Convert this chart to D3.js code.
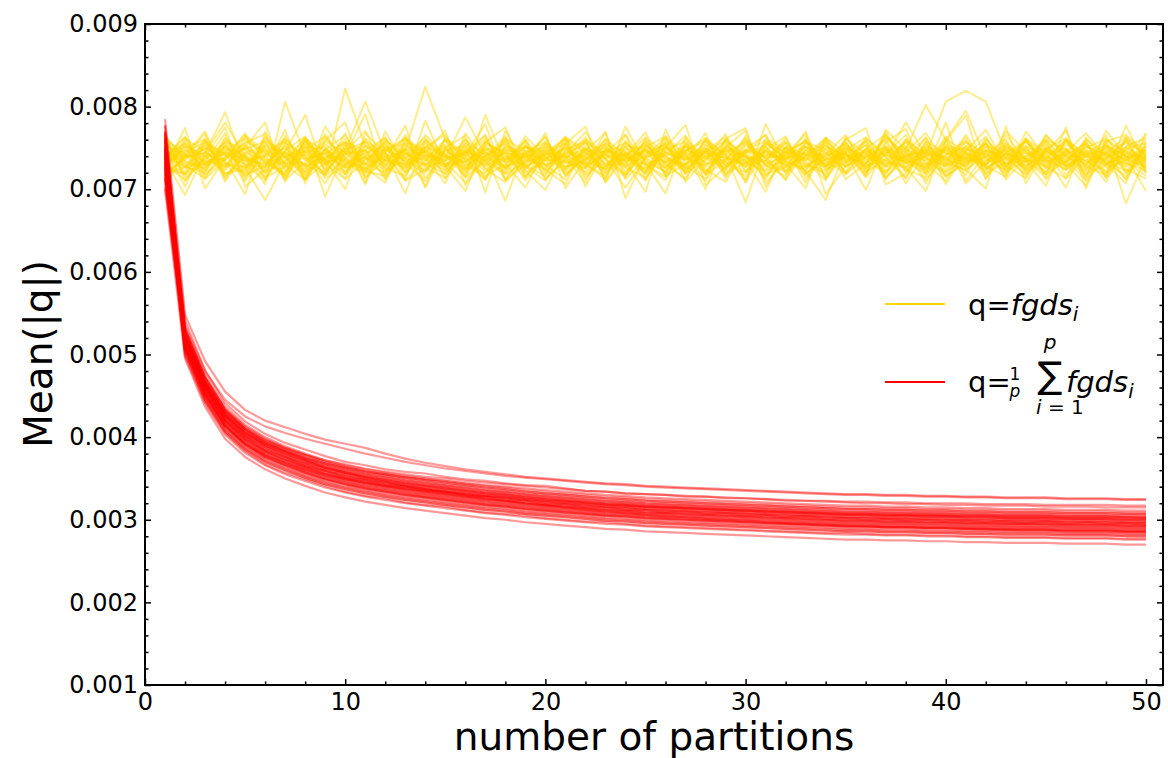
<!DOCTYPE html>
<html>
<head>
<meta charset="utf-8">
<script src="https://cdn.jsdelivr.net/npm/d3@7/dist/d3.min.js"></script>
<style>
  html, body { margin: 0; padding: 0; background: #fff; }
  svg { display: block; font-family: "DejaVu Sans", sans-serif; }
</style>
</head>
<body>
<svg id="chart" width="1168" height="758"></svg>
<script>
// Number of partitions on the x axis
const partitions = d3.range(1, 51);

// Axis ticks
const xTickValues = [0, 10, 20, 30, 40, 50];
const xTickLabels = ["0", "10", "20", "30", "40", "50"];
const yTickValues = [0.001, 0.002, 0.003, 0.004, 0.005, 0.006, 0.007, 0.008, 0.009];
const yTickLabels = ["0.001", "0.002", "0.003", "0.004", "0.005", "0.006", "0.007", "0.008", "0.009"];

// Mean(|q|) x 1e5 for q = fgds_i, one run per row
const singleRuns = [
  [731,748,722,756,739,727,761,735,744,719,752,738,729,766,741,725,749,733,758,721,744,737,752,728,740,763,731,746,724,755,738,742,717,749,733,760,727,741,751,736,722,747,739,758,730,745,726,753,740,734],
  [745,726,751,733,718,757,740,729,762,737,724,748,755,731,719,746,738,760,727,743,735,721,749,741,756,729,744,734,759,722,747,736,751,728,742,731,764,739,725,748,737,756,723,741,750,733,757,729,744,738],
  [718,739,744,727,752,735,720,758,731,746,738,723,749,741,728,755,732,719,747,736,761,733,725,743,718,750,739,727,744,757,730,721,748,739,755,726,742,733,719,754,745,731,748,724,737,760,742,735,722,749],
  [756,733,729,749,741,722,745,730,717,755,742,735,726,752,738,744,721,746,733,758,725,748,737,714,753,740,727,759,735,741,723,750,736,744,728,739,751,722,746,735,758,724,743,732,755,727,741,749,736,728],
  [737,752,741,719,728,748,733,754,742,726,731,760,737,722,749,730,758,741,720,735,751,727,743,756,734,721,748,739,730,746,759,734,724,751,741,729,736,757,733,720,749,742,727,760,736,724,745,738,758,742],
  [725,718,755,743,735,731,752,721,738,748,757,729,744,735,760,723,741,750,736,729,742,756,728,737,747,732,754,721,749,738,727,745,758,735,719,748,733,726,752,744,736,729,755,738,721,747,734,722,749,756],
  [762,741,735,728,759,744,726,747,733,739,721,745,762,728,734,750,724,737,744,751,728,733,761,740,725,744,736,748,718,733,751,726,741,762,735,744,720,748,739,727,753,735,746,723,758,739,731,744,727,747],
  [740,755,730,747,724,762,738,718,750,729,744,753,733,747,726,739,761,724,752,740,733,745,719,751,737,755,724,740,746,728,735,757,731,722,750,739,745,736,723,759,731,748,735,750,726,733,752,741,731,723],
  [705,742,770,712,751,781,709,762,735,700,768,744,712,783,728,698,757,775,715,741,764,703,749,733,697,772,720,753,744,708,779,731,701,763,744,717,770,726,698,758,789,712,766,735,704,760,742,718,777,729],
  [768,710,739,775,703,724,772,707,759,781,714,736,777,702,750,765,696,771,728,710,755,776,708,740,769,716,745,700,761,774,708,735,770,712,744,699,757,773,720,781,710,745,716,770,738,702,763,731,707,768],
  [726,774,701,738,768,712,745,790,718,752,706,770,728,745,771,705,739,764,722,699,748,758,712,776,731,695,760,718,751,771,703,742,767,694,728,754,712,745,768,731,724,701,776,707,749,762,715,771,740,698],
  [751,703,760,735,694,770,729,712,776,740,791,713,748,703,762,742,779,711,730,768,701,737,724,766,712,751,778,705,727,744,766,720,752,730,760,774,706,719,757,706,746,772,729,753,718,775,701,758,766,744],
  [728,719,745,781,739,706,806,740,718,822,752,733,747,824,760,715,790,731,702,749,738,725,770,689,741,756,718,747,763,735,697,752,741,736,744,716,772,748,802,760,795,737,724,758,733,744,768,739,712,752],
  [735,693,744,793,726,687,733,762,691,747,806,744,695,760,738,787,741,686,752,729,743,769,736,702,738,751,729,760,742,684,755,738,722,687,747,763,739,781,741,806,819,806,744,733,760,748,729,756,683,739],
  [733,747,739,725,744,751,728,742,736,757,730,739,746,722,741,733,751,739,727,744,738,749,731,743,723,745,737,729,752,740,734,723,746,738,727,749,741,735,730,742,751,726,738,744,733,741,723,747,735,752],
  [748,731,726,752,734,740,745,724,748,731,739,727,742,750,729,746,735,748,740,730,751,728,740,735,748,726,752,731,736,747,739,750,728,744,738,732,746,753,737,729,742,733,750,727,745,736,748,730,743,736],
  [722,736,749,741,730,726,739,751,729,743,747,735,731,738,754,728,745,727,739,748,731,742,745,726,752,737,730,744,738,731,746,729,738,753,734,741,728,740,746,737,728,752,731,740,747,728,740,736,751,728],
  [741,727,733,738,749,736,731,738,744,726,736,749,725,741,735,742,729,739,751,737,727,736,747,738,730,741,746,737,727,743,730,741,752,728,739,746,735,727,741,749,738,731,744,736,728,742,735,744,729,745],
  [753,739,744,731,727,743,749,727,740,735,725,741,738,730,745,737,744,733,740,726,746,739,728,748,741,733,740,750,730,736,744,733,727,741,746,738,731,744,735,740,732,746,737,729,742,750,733,738,747,733],
  [729,744,728,744,737,731,741,746,729,749,740,731,739,745,730,747,738,725,743,734,740,731,742,734,745,735,727,740,748,731,742,737,744,730,742,735,749,731,739,746,733,739,748,733,740,729,745,733,739,741],
  [716,758,731,744,709,753,738,721,767,729,748,712,755,736,722,761,727,745,714,752,739,708,758,733,747,719,763,730,741,711,756,744,726,760,718,739,752,707,745,731,763,718,751,736,714,748,729,765,721,742],
  [752,721,763,709,745,733,716,757,724,768,713,749,735,719,762,734,711,753,741,724,706,757,742,716,751,764,709,737,757,721,739,712,763,727,751,736,718,759,731,710,749,739,722,761,744,713,756,720,738,767],
  [739,764,715,753,729,711,756,740,707,744,771,722,737,758,713,744,766,718,733,755,721,747,768,712,738,726,752,717,735,762,729,756,713,742,766,721,735,748,707,752,726,760,738,718,745,771,710,738,757,724],
  [711,745,757,722,764,741,713,752,735,761,726,708,759,747,723,737,712,761,746,718,754,731,712,759,727,742,765,724,709,749,766,719,740,757,712,731,762,744,720,758,707,734,754,727,766,739,716,752,731,760],
  [761,715,734,768,717,729,758,713,749,722,740,763,711,734,752,719,749,735,759,712,738,763,729,745,710,757,736,748,722,765,717,746,734,711,757,728,743,766,717,748,735,756,712,738,761,727,747,714,760,721],
  [727,753,712,736,756,767,722,745,716,737,759,728,766,713,747,752,725,708,737,764,718,744,755,721,749,733,711,762,740,727,748,764,719,736,745,757,714,737,763,716,745,728,770,746,719,733,760,742,724,713],
  [744,737,768,716,740,715,747,764,731,712,735,757,720,748,733,708,741,756,725,744,761,716,737,752,719,764,742,710,754,733,722,738,760,714,749,724,766,731,748,739,717,762,730,747,725,757,738,709,751,736],
  [758,727,720,761,731,749,711,733,758,744,722,716,752,739,707,768,734,721,760,729,712,750,723,739,763,716,731,755,713,748,740,758,729,719,761,743,722,752,711,741,759,725,743,715,750,731,704,760,745,719],
  [720,761,746,728,753,719,765,726,743,757,708,751,728,760,741,722,755,744,711,737,749,727,761,718,744,753,719,736,767,709,747,730,751,745,721,762,739,714,756,728,739,764,721,735,758,717,753,732,716,755],
  [747,718,737,757,712,764,730,752,713,729,753,741,710,724,760,739,716,730,752,745,725,760,709,745,730,715,752,741,725,758,737,711,747,728,755,719,749,732,762,723,752,713,744,758,729,749,721,743,764,738],
  [733,750,760,714,742,727,753,711,748,765,731,720,757,744,718,752,729,762,715,741,756,712,747,730,759,740,721,746,733,716,761,749,708,758,736,745,727,761,739,715,734,751,727,762,712,742,755,726,735,748],
  [749,729,713,746,762,738,717,759,736,718,747,762,732,710,749,725,758,736,741,763,716,738,751,726,714,747,758,721,750,739,715,744,759,724,740,753,714,742,727,764,724,740,761,719,748,731,759,714,747,726],
  [714,740,753,731,721,759,744,729,755,733,717,745,761,738,727,748,713,753,729,716,761,744,725,757,736,721,746,762,719,744,752,727,741,716,763,731,757,721,749,733,766,728,715,752,740,723,744,758,719,739],
  [765,734,725,758,748,720,735,763,722,746,729,756,719,751,743,715,753,727,764,739,723,751,737,718,762,745,727,713,761,732,747,734,722,755,719,748,729,759,743,721,737,754,741,725,765,742,719,729,752,762],
  [730,711,741,735,766,745,758,717,738,713,762,735,749,726,714,757,733,744,738,723,758,718,744,766,731,711,755,743,733,720,758,745,737,727,752,714,744,750,729,761,745,719,733,749,727,713,741,754,733,716],
  [742,756,722,763,737,714,727,748,764,735,720,752,741,763,729,734,747,712,745,757,733,725,747,739,720,752,735,768,716,754,729,716,757,748,731,758,721,740,749,716,731,756,728,745,737,759,728,717,762,740],
  [755,738,749,719,724,754,742,712,732,757,746,726,716,751,766,727,719,749,723,755,741,730,716,753,748,738,724,745,759,741,712,751,734,762,727,742,760,724,714,752,740,729,758,721,747,735,712,752,740,731],
  [719,727,758,742,755,732,719,761,746,727,739,717,763,742,735,760,741,726,754,712,736,760,742,729,757,724,747,758,728,746,733,762,719,737,757,725,749,713,758,744,728,747,718,761,734,754,740,729,762,721],
  [736,763,730,752,715,741,761,737,720,753,724,759,743,729,751,714,735,757,730,747,717,740,754,745,722,760,741,719,748,727,756,738,743,724,732,749,766,737,726,751,743,722,752,736,718,761,725,746,712,757],
  [760,742,718,739,749,758,714,745,752,719,758,744,722,756,738,741,765,711,743,735,763,748,720,737,754,730,713,749,737,760,718,727,756,733,744,721,752,736,744,730,757,743,729,713,753,724,750,761,738,726]
];

// Mean(|q|) x 1e5 for q = (1/p) * sum of fgds_i over the p partitions, one run per row
const averagedRuns = [
  [778,541,481,441,419,404,393,385,377,370,366,361,358,356,352,349,347,344,342,341,338,335,334,332,331,330,328,328,326,326,325,323,323,322,321,320,320,319,319,318,318,317,317,317,316,316,316,315,315,315],
  [712,500,443,405,383,367,357,349,341,334,329,326,321,318,316,312,309,307,305,302,300,298,297,295,293,292,291,290,289,288,287,286,285,284,284,283,282,282,281,281,280,280,279,279,279,278,278,278,277,277],
  [752,522,466,427,405,391,380,371,363,357,352,348,344,341,338,335,332,330,327,325,323,321,319,318,316,315,314,313,312,311,310,309,308,307,306,306,305,305,304,304,303,303,302,302,302,301,301,301,300,300],
  [735,512,455,418,395,380,370,361,353,347,342,338,334,331,328,325,322,320,317,315,313,311,309,308,306,305,304,303,302,301,300,299,298,297,296,296,295,295,294,294,293,293,292,292,292,291,291,291,290,290],
  [760,530,472,434,412,397,386,378,370,364,359,355,351,348,345,342,339,337,334,332,330,328,326,325,323,322,321,320,319,318,317,316,315,314,313,313,312,312,311,311,310,310,309,309,309,308,308,308,307,307],
  [722,508,450,413,390,375,365,356,348,342,337,333,329,326,323,320,317,315,312,310,308,306,304,303,301,300,299,298,297,296,295,294,293,292,291,291,290,290,289,289,288,288,287,287,287,286,286,286,285,285],
  [748,518,461,421,401,384,376,365,359,351,348,342,340,335,334,329,328,324,323,319,319,315,315,312,312,309,310,307,308,305,306,303,304,301,302,300,301,299,300,298,299,297,298,296,298,295,297,295,296,294],
  [785,548,492,455,433,420,412,404,397,392,387,380,374,369,365,361,358,355,352,350,348,346,344,343,341,340,339,338,337,336,335,334,333,332,331,331,330,330,329,329,328,328,327,327,327,326,326,326,325,325],
  [700,495,437,398,376,361,350,341,333,327,322,318,314,311,308,305,302,300,297,295,293,291,289,288,286,285,284,283,282,281,280,279,278,277,276,276,275,275,274,274,273,273,272,272,272,271,271,271,270,270],
  [742,526,468,430,408,393,383,374,366,360,355,351,347,344,341,338,335,333,330,328,326,324,322,321,319,318,317,316,315,314,313,312,311,310,309,309,308,308,307,307,306,306,305,305,305,304,304,304,303,303],
  [766,517,458,420,398,383,373,364,356,350,345,341,337,334,331,328,325,323,320,318,316,314,312,311,309,308,307,306,305,304,303,302,301,300,299,299,298,298,297,297,296,296,295,295,295,294,294,294,293,293],
  [730,515,462,426,405,392,383,375,368,363,358,355,352,349,347,344,342,340,338,336,334,332,330,329,327,326,325,324,323,322,321,320,319,318,317,317,316,316,315,315,314,314,313,313,313,312,312,312,311,311],
  [740,505,447,409,387,372,362,353,345,339,334,330,326,323,320,317,314,312,309,307,305,303,301,300,298,297,296,295,294,293,292,291,290,289,288,288,287,287,286,286,285,285,284,284,284,283,283,283,282,282],
  [720,521,463,425,403,388,378,369,361,355,350,346,342,339,336,333,330,328,325,323,321,319,317,316,314,313,312,311,310,309,308,307,306,305,304,304,303,303,302,302,301,301,300,300,300,299,299,299,298,298],
  [756,511,453,415,393,378,368,359,351,345,340,336,332,329,326,323,320,318,315,313,311,309,307,306,304,303,302,301,300,299,298,297,296,295,294,294,293,293,292,292,291,291,290,290,290,289,289,289,288,288],
  [770,524,466,430,410,396,387,379,372,367,362,358,355,352,350,347,345,343,341,339,337,335,334,332,331,330,329,328,327,326,325,324,323,323,322,322,321,321,320,320,320,319,319,319,318,318,318,318,317,317],
  [728,498,441,403,381,366,355,347,339,333,328,324,320,317,314,311,308,306,303,301,299,297,295,294,292,291,290,289,288,287,286,285,284,283,282,282,281,281,280,280,279,279,278,278,278,277,277,277,276,276],
  [738,528,470,432,410,395,385,376,368,362,357,353,349,346,343,340,337,335,332,330,328,326,324,323,321,320,319,318,317,316,315,314,313,312,311,311,310,310,309,309,308,308,307,307,307,306,306,306,305,305],
  [750,503,445,407,385,370,360,351,343,337,332,328,324,321,318,315,312,310,307,305,303,301,299,298,296,295,294,293,292,291,290,289,288,287,286,286,285,285,284,284,283,283,282,282,282,281,281,281,280,280],
  [703,519,461,423,401,386,376,367,359,353,348,344,340,337,334,331,328,326,323,321,319,317,315,314,312,311,310,309,308,307,306,305,304,303,302,302,301,301,300,300,299,299,298,298,298,297,297,297,296,296],
  [760,535,480,445,425,413,405,398,392,386,380,375,370,366,362,359,356,353,351,349,347,345,343,342,340,339,338,337,336,335,334,333,332,331,330,330,329,329,328,328,327,327,326,326,326,325,325,325,324,324],
  [776,510,452,414,391,376,366,357,349,343,338,334,330,327,324,321,318,316,313,311,309,307,305,304,302,301,300,299,298,297,296,295,294,293,292,292,291,291,290,290,289,289,288,288,288,287,287,287,286,286],
  [758,525,467,427,407,390,381,372,363,358,353,349,345,342,339,336,333,331,328,326,324,322,320,319,317,316,315,314,313,312,311,310,309,308,307,307,306,306,305,305,304,304,303,303,303,302,302,302,301,301],
  [744,513,456,418,396,381,371,362,354,348,343,339,335,332,329,326,323,321,318,316,314,312,310,309,307,306,305,304,303,302,301,300,299,298,297,297,296,296,295,295,294,294,293,293,293,292,292,292,291,291],
  [730,522,463,424,402,388,377,368,360,354,349,345,341,338,335,332,329,327,324,322,320,318,316,315,313,312,311,310,309,308,307,306,305,304,303,303,302,302,301,301,300,300,299,299,299,298,298,298,297,297],
  [762,509,452,414,392,377,367,358,350,344,339,335,331,328,325,322,319,317,314,312,310,308,306,305,303,302,301,300,299,298,297,296,295,294,293,293,292,292,291,291,290,290,289,289,289,288,288,288,287,287],
  [745,531,473,434,413,398,387,378,370,364,359,355,351,348,345,342,339,337,334,332,330,328,326,325,323,322,321,320,319,318,317,316,315,314,313,313,312,312,311,311,310,310,309,309,309,308,308,308,307,307],
  [725,506,448,410,388,373,363,354,346,340,335,331,327,324,321,318,315,313,310,308,306,304,302,301,299,298,297,296,295,294,293,292,291,290,289,289,288,288,287,287,286,286,285,285,285,284,284,284,283,283],
  [718,508,451,413,392,378,369,361,354,349,345,341,338,336,333,331,329,327,325,323,322,320,318,317,316,315,314,313,312,311,310,310,309,308,307,307,306,306,306,305,305,305,304,304,304,303,303,303,303,302],
  [768,530,472,433,410,394,383,373,364,357,351,346,341,337,333,330,326,323,320,317,315,312,310,308,306,304,303,301,300,299,297,296,295,294,293,292,291,291,290,290,289,288,288,287,287,286,286,286,285,285],
  [752,520,464,426,404,389,379,370,362,356,351,347,343,340,337,334,331,329,326,324,322,320,318,317,315,314,313,312,311,310,309,308,307,306,305,305,304,304,303,303,302,302,301,301,301,300,300,300,299,299],
  [738,516,458,420,398,383,373,364,356,350,345,341,337,334,331,328,325,323,320,318,316,314,312,311,309,308,307,306,305,304,303,302,301,300,299,299,298,298,297,297,296,296,295,295,295,294,294,294,293,293],
  [712,524,467,429,407,392,382,373,365,359,354,350,346,343,340,337,334,332,329,327,325,323,321,320,318,317,316,315,314,313,312,311,310,309,308,308,307,307,306,306,305,305,304,304,304,303,303,303,302,302],
  [770,512,454,416,394,379,369,360,352,346,341,337,333,330,327,324,321,319,316,314,312,310,308,307,305,304,303,302,301,300,299,298,297,296,295,295,294,294,293,293,292,292,291,291,291,290,290,290,289,289],
  [732,533,475,437,415,400,389,380,372,366,361,357,353,350,347,344,341,339,336,334,332,330,328,327,325,324,323,322,321,320,319,318,317,316,315,315,314,314,313,313,312,312,311,311,311,310,310,310,309,309],
  [748,503,445,407,385,370,360,351,343,337,332,328,324,321,318,315,312,310,307,305,303,301,299,298,296,295,294,293,292,291,290,289,288,287,286,286,285,285,284,284,283,283,282,282,282,281,281,281,280,280],
  [742,519,461,423,401,386,376,367,359,353,348,344,340,337,334,331,328,326,323,321,319,317,315,314,312,311,310,309,308,307,306,305,304,303,302,302,301,301,300,300,299,299,298,298,298,297,297,297,296,296],
  [727,515,457,419,397,382,372,363,355,349,344,340,336,333,330,327,324,322,319,317,315,313,311,310,308,307,306,305,304,303,302,301,300,299,298,298,297,297,296,296,295,295,294,294,294,293,293,293,292,292],
  [765,527,469,431,409,394,384,375,367,361,356,352,348,345,342,339,336,334,331,329,327,325,323,322,320,319,318,317,316,315,314,313,312,311,310,310,309,309,308,308,307,307,306,306,306,305,305,305,304,304],
  [715,509,451,413,391,376,366,357,349,343,338,334,330,327,324,321,318,316,313,311,309,307,305,304,302,301,300,299,298,297,296,295,294,293,292,292,291,291,290,290,289,289,288,288,288,287,287,287,286,286],
  [750,523,465,427,405,390,380,371,363,357,352,348,344,341,338,335,332,330,327,325,323,321,319,318,316,315,314,313,312,311,310,309,308,307,306,306,305,305,304,304,303,303,302,302,302,301,301,301,300,300],
  [735,517,459,421,399,384,374,365,357,351,346,342,338,335,332,329,326,324,321,319,317,315,313,312,310,309,308,307,306,305,304,303,302,301,300,300,299,299,298,298,297,297,296,296,296,295,295,295,294,294]
];

const GOLD = "#FFD700";
const RED = "#FF0000";

const svg = d3.select("#chart");
const margin = { left: 145, right: 1163, top: 24, bottom: 685 };

const x = d3.scaleLinear().domain([0, 50.85]).range([margin.left, margin.right]);
const y = d3.scaleLinear().domain([0.001, 0.009]).range([margin.bottom, margin.top]);

const line = d3.line()
  .x((d, i) => x(partitions[i]))
  .y(d => y(d / 1e5));

// Runs: individual partitions first, averaged runs drawn on top
const runs = svg.append("g");
runs.selectAll("path.single")
  .data(singleRuns)
  .join("path")
  .attr("class", "single")
  .attr("d", line)
  .attr("fill", "none")
  .attr("stroke", GOLD)
  .attr("stroke-width", 2)
  .attr("stroke-opacity", 0.45)
  .attr("stroke-linejoin", "round");

runs.selectAll("path.averaged")
  .data(averagedRuns)
  .join("path")
  .attr("class", "averaged")
  .attr("d", line)
  .attr("fill", "none")
  .attr("stroke", RED)
  .attr("stroke-width", 2.2)
  .attr("stroke-opacity", 0.4)
  .attr("stroke-linejoin", "round");

// Axes with inward ticks on all four sides
const xMinor = d3.range(0, 51, 2).filter(v => v % 10 !== 0);
const yMinor = d3.range(10, 91, 2).filter(v => v % 10 !== 0).map(v => v / 10000);

function styleAxis(g) {
  g.select(".domain").remove();
  g.selectAll(".tick line").attr("stroke", "#000").attr("stroke-width", 1.5);
  g.selectAll(".tick text").attr("fill", "#000").attr("font-size", 24)
    .attr("font-family", "DejaVu Sans, sans-serif");
}

const MAJ = 6, MIN = 3.5;

svg.append("g").attr("transform", `translate(0,${margin.bottom})`)
  .call(d3.axisBottom(x).tickValues(xTickValues).tickSize(-MAJ).tickPadding(8)
    .tickFormat((d, i) => xTickLabels[i]))
  .call(styleAxis);
svg.append("g").attr("transform", `translate(0,${margin.bottom})`)
  .call(d3.axisBottom(x).tickValues(xMinor).tickSize(-MIN).tickFormat(""))
  .call(styleAxis);
svg.append("g").attr("transform", `translate(0,${margin.top})`)
  .call(d3.axisTop(x).tickValues(xTickValues).tickSize(-MAJ).tickFormat(""))
  .call(styleAxis);
svg.append("g").attr("transform", `translate(0,${margin.top})`)
  .call(d3.axisTop(x).tickValues(xMinor).tickSize(-MIN).tickFormat(""))
  .call(styleAxis);

svg.append("g").attr("transform", `translate(${margin.left},0)`)
  .call(d3.axisLeft(y).tickValues(yTickValues).tickSize(-MAJ).tickPadding(7)
    .tickFormat((d, i) => yTickLabels[i]))
  .call(styleAxis);
svg.append("g").attr("transform", `translate(${margin.left},0)`)
  .call(d3.axisLeft(y).tickValues(yMinor).tickSize(-MIN).tickFormat(""))
  .call(styleAxis);
svg.append("g").attr("transform", `translate(${margin.right},0)`)
  .call(d3.axisRight(y).tickValues(yTickValues).tickSize(-MAJ).tickFormat(""))
  .call(styleAxis);
svg.append("g").attr("transform", `translate(${margin.right},0)`)
  .call(d3.axisRight(y).tickValues(yMinor).tickSize(-MIN).tickFormat(""))
  .call(styleAxis);

// Frame
svg.append("rect")
  .attr("x", margin.left).attr("y", margin.top)
  .attr("width", margin.right - margin.left)
  .attr("height", margin.bottom - margin.top)
  .attr("fill", "none").attr("stroke", "#000").attr("stroke-width", 2);

// Axis titles
svg.append("text")
  .attr("x", (margin.left + margin.right) / 2).attr("y", 750)
  .attr("text-anchor", "middle").attr("font-size", 39)
  .text("number of partitions");

svg.append("text")
  .attr("transform", "translate(52,354) rotate(-90)")
  .attr("text-anchor", "middle").attr("font-size", 39)
  .text("Mean(|q|)");

// Legend
const legend = svg.append("g");
legend.append("line").attr("x1", 885).attr("x2", 945).attr("y1", 304).attr("y2", 304)
  .attr("stroke", GOLD).attr("stroke-width", 2);
legend.append("line").attr("x1", 885).attr("x2", 945).attr("y1", 382).attr("y2", 382)
  .attr("stroke", RED).attr("stroke-width", 2);

const t1 = legend.append("text").attr("x", 968).attr("y", 315).attr("font-size", 29);
t1.append("tspan").text("q=");
t1.append("tspan").attr("font-style", "italic").text("fgds");
t1.append("tspan").attr("font-style", "italic").attr("font-size", 20).attr("dy", 6).text("i");

// q = (1/p) sum_{i=1}^{p} fgds_i, laid out as one text element
const t2 = legend.append("text").attr("font-size", 29);
t2.append("tspan").attr("x", 968).attr("y", 392).text("q=");
t2.append("tspan").attr("x", 1015).attr("y", 380).attr("font-size", 17)
  .attr("text-anchor", "middle").text("1");
t2.append("tspan").attr("x", 1015).attr("y", 397).attr("font-size", 17)
  .attr("text-anchor", "middle").attr("font-style", "italic").text("p");
t2.append("tspan").attr("x", 1050).attr("y", 388).attr("font-size", 37)
  .attr("text-anchor", "middle").text("\u2211");
t2.append("tspan").attr("x", 1050).attr("y", 349).attr("font-size", 20)
  .attr("text-anchor", "middle").attr("font-style", "italic").text("p");
t2.append("tspan").attr("x", 1036).attr("y", 414).attr("font-size", 20)
  .attr("font-style", "italic").text("i");
t2.append("tspan").attr("font-size", 20).text(" = 1");
t2.append("tspan").attr("x", 1066).attr("y", 392).attr("font-style", "italic").text("fgds");
t2.append("tspan").attr("font-style", "italic").attr("font-size", 20).attr("dy", 6).text("i");
</script>
</body>
</html>
